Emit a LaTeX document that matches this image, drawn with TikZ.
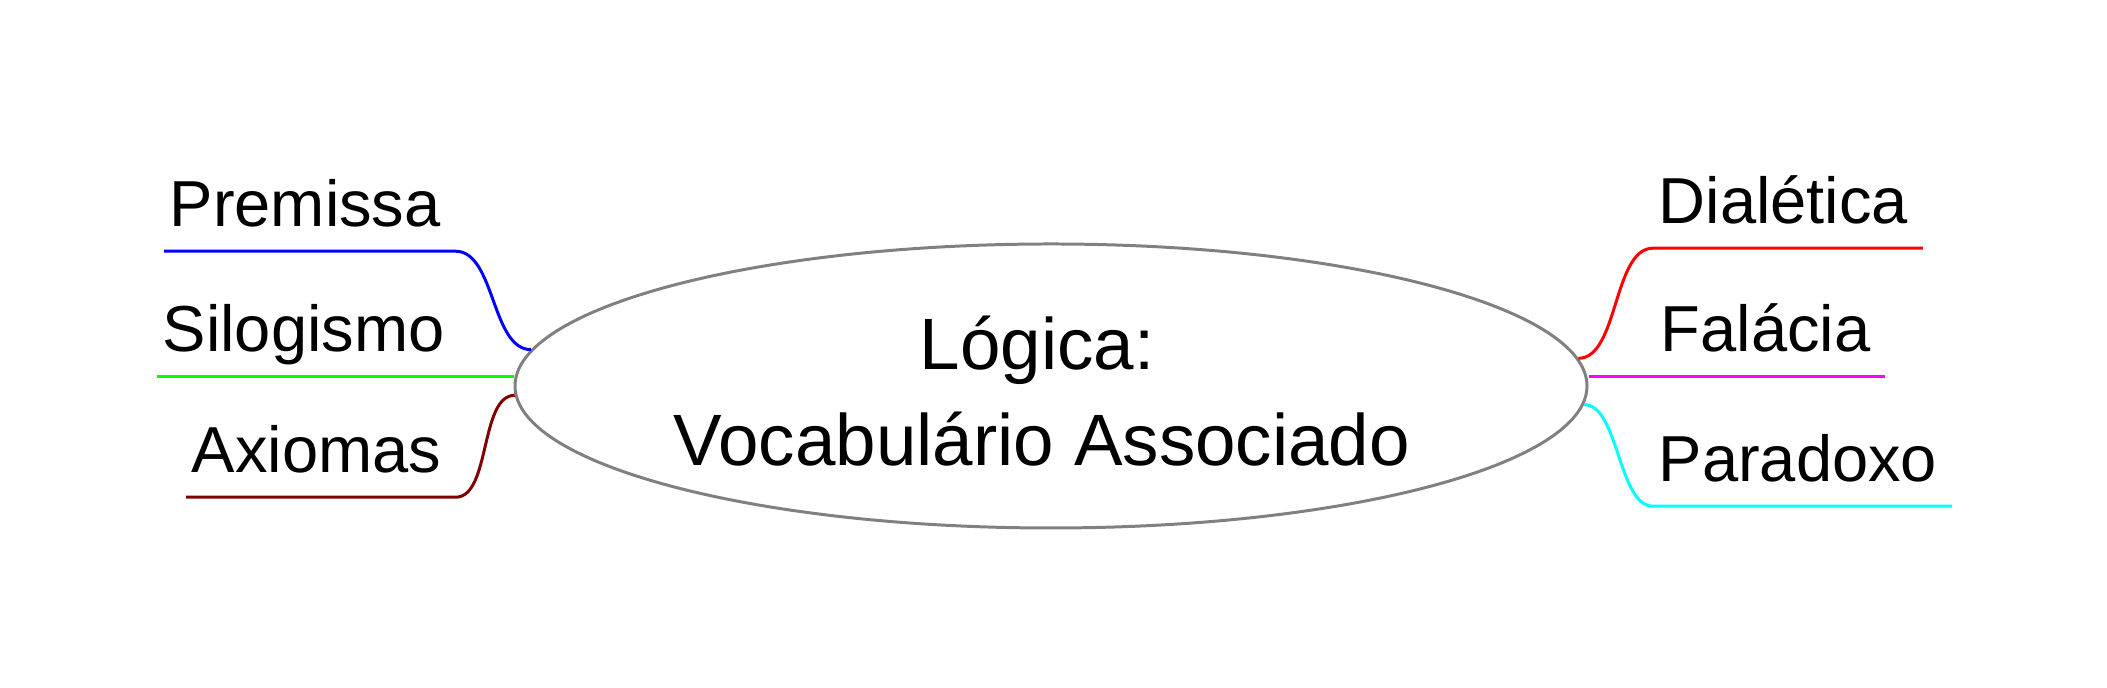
\documentclass[tikz,border=0pt]{standalone}
\usepackage{fontspec}
\setmainfont{Liberation Sans}
\usetikzlibrary{shapes.geometric}
\definecolor{maroon}{RGB}{128,0,0}
\definecolor{rgbmagenta}{RGB}{255,0,255}
\definecolor{rgbcyan}{RGB}{0,255,255}
\definecolor{rgbgreen}{RGB}{0,255,0}

\begin{document}
\begin{tikzpicture}
\tikzstyle{every node}+=[inner sep=0pt]
\tikzstyle{ramo}=[font=\fontsize{18.5}{22}\selectfont, anchor=base west, text depth=0.235cm]
\tikzstyle{titulo}=[font=\fontsize{20.7}{25}\selectfont, anchor=base]
\tikzstyle{linha}=[line width=0.85pt]
\useasboundingbox (0,0) rectangle (21.07,6.88);
\node [ellipse, draw=gray, linha, minimum width=10.72cm, minimum height=2.84cm] (logica) at (10.51,3.02) {};
\node [titulo] (titulo1) at (10.37,3.18) {Lógica:};
\node [titulo] (titulo2) at (10.42,2.22) {Vocabulário Associado};
\node [ramo] (premissa) at (1.69,4.61) {Premissa};
\node [ramo] (silogismo) at (1.62,3.36) {Silogismo};
\node [ramo] (axiomas) at (1.91,2.15) {Axiomas};
\node [ramo] (dialetica) at (16.58,4.64) {Dialética};
\node [ramo] (falacia) at (16.60,3.36) {Falácia};
\node [ramo] (paradoxo) at (16.58,2.06) {Paradoxo};
\draw [blue, linha] (logica.176) .. controls +(-0.4,0) and +(0.4,0) .. ([xshift=0.14cm]premissa.south east) -- ([xshift=-0.05cm]premissa.south west);
\draw [rgbgreen, linha] (silogismo.south west -| logica.west) -- ([xshift=-0.05cm]silogismo.south west);
\draw [maroon, linha] (logica.181.2) .. controls +(-0.35,0) and +(0.35,0) .. ([xshift=0.14cm]axiomas.south east) -- ([xshift=-0.05cm]axiomas.south west);
\draw [red, linha] (logica.3.9) .. controls +(0.4,0) and +(-0.4,0) .. ([xshift=-0.05cm]dialetica.south west) -- ([xshift=0.14cm]dialetica.south east);
\draw [rgbmagenta, linha] (falacia.south west -| logica.east) -- ([xshift=0.14cm]falacia.south east);
\draw [rgbcyan, linha] (logica.358.5) .. controls +(0.35,0) and +(-0.35,0) .. ([xshift=-0.05cm]paradoxo.south west) -- ([xshift=0.14cm]paradoxo.south east);
\end{tikzpicture}
\end{document}
